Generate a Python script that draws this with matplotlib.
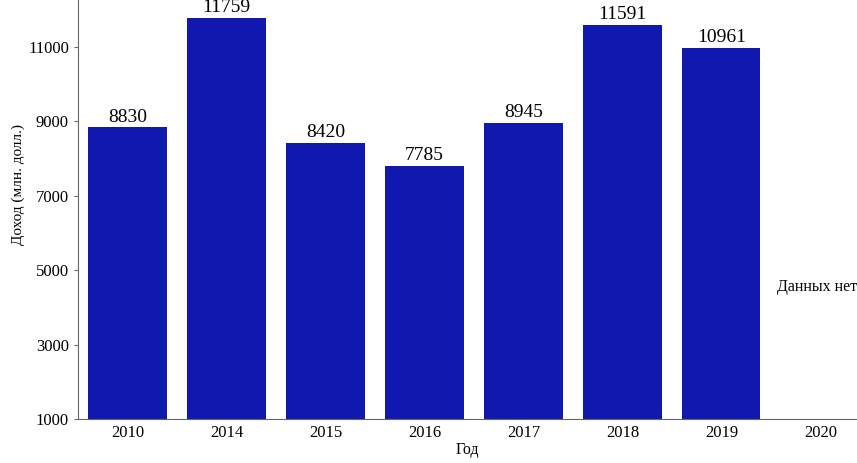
import matplotlib
matplotlib.use("Agg")
import matplotlib.pyplot as plt

years = ["2010", "2014", "2015", "2016", "2017", "2018", "2019", "2020"]
income = [8830, 11759, 8420, 7785, 8945, 11591, 10961, None]
no_data_text = "Данных нет"

plt.rcParams["font.family"] = ["Liberation Serif", "DejaVu Serif"]

fig = plt.figure(figsize=(8.57, 4.63), dpi=100)
ax = fig.add_axes([0.091, 0.095, 0.909, 0.905])

xs = [i for i, v in enumerate(income) if v is not None]
vals = [v for v in income if v is not None]
ax.bar(xs, vals, width=0.79, color="#1018B0", bottom=0)
for x, v in zip(xs, vals):
    ax.text(x, v + 50, str(v), ha="center", va="bottom", fontsize=14)

# missing year
ax.text(len(years) - 1 + 0.37, 4540, no_data_text, ha="right", va="center", fontsize=11.5)

ax.set_xticks(range(len(years)))
ax.set_xticklabels(years, fontsize=12)
ax.set_yticks(range(1000, 12000, 2000))
ax.tick_params(axis="y", labelsize=12, length=3, color="#666666")
ax.tick_params(axis="x", length=0, pad=4)
ax.set_xlim(-0.5, 7.37)
ax.set_ylim(1000, 12250)

for s in ("top", "right"):
    ax.spines[s].set_visible(False)
for s in ("left", "bottom"):
    ax.spines[s].set_color("#666666")

ax.set_xlabel("Год", fontsize=11.5, labelpad=1)
ax.set_ylabel("Доход (млн. долл.)", fontsize=11)
ax.yaxis.set_label_coords(-0.068, 0.56)

fig.savefig("out.png", dpi=100)
